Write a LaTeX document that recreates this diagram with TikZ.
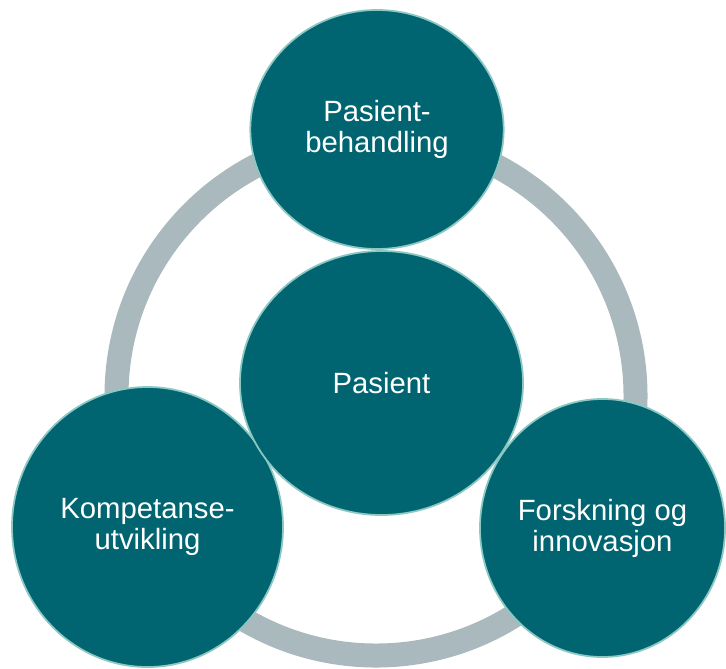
\documentclass[tikz,border=0pt]{standalone}
\usepackage{fontspec}
\setmainfont{Liberation Sans}
\usetikzlibrary{shapes.geometric}

\begin{document}
\begin{tikzpicture}[x=0.03cm,y=-0.03cm]
        \definecolor{disc}{RGB}{0,101,113}
        \definecolor{rim}{RGB}{140,200,195}
        \definecolor{ring}{RGB}{170,185,190}

        \tikzset{
          area/.style={ellipse,fill=disc,draw=rim,line width=1.5pt,inner sep=0pt,
                       text=white,align=center,font=\fontsize{25}{26.5}\selectfont}
        }

        \useasboundingbox (0,0) rectangle (726,668);

        % grey ring behind the discs
        \draw[ring,line width=0.72cm] (376,396) circle (7.785cm);

        \node[area,minimum width=7.60cm,minimum height=7.17cm] (behandling) at (377,129.5) {Pasient-\\behandling};
        \node[area,minimum width=8.13cm,minimum height=8.40cm] (kompetanse) at (147.5,527) {Kompetanse-\\utvikling};
        \node[area,minimum width=7.35cm,minimum height=7.74cm] (forskning) at (602.5,528) {Forskning og\\innovasjon};
        \node[area,minimum width=8.49cm,minimum height=7.92cm] (pasient) at (381.5,383) {Pasient};
\end{tikzpicture}
\end{document}
